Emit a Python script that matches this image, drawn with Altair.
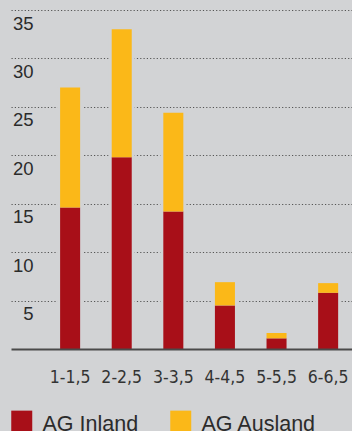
import altair as alt
import pandas as pd

# Stacked bar values per bracket
categories = ["1-1,5", "2-2,5", "3-3,5", "4-4,5", "5-5,5", "6-6,5"]
inland = [14.6, 19.8, 14.2, 4.5, 1.1, 5.8]
ausland = [12.4, 13.2, 10.2, 2.4, 0.55, 1.0]
series_names = ["AG Inland", "AG Ausland"]
series_colors = ["#a80f18", "#fbb818"]
y_ticks = [5, 10, 15, 20, 25, 30, 35]

BG = "#d2d3d5"

rows = []
for cat, a, b in zip(categories, inland, ausland):
    rows.append({"cat": cat, "series": series_names[0], "order": 0, "value": a})
    rows.append({"cat": cat, "series": series_names[1], "order": 1, "value": b})
df = pd.DataFrame(rows)
totals = pd.DataFrame({"cat": categories, "total": [a + b for a, b in zip(inland, ausland)]})

x_scale = alt.Scale(domain=categories, paddingInner=0.612, paddingOuter=0.61, align=0.78, round=False)
y_scale = alt.Scale(domain=[0, 35], nice=False)

x_enc = alt.X(
    "cat:N",
    scale=x_scale,
    sort=categories,
    axis=alt.Axis(
        title=None,
        ticks=False,
        grid=False,
        domain=True,
        domainColor="#4a4a4a",
        domainWidth=2,
        labelFont="DejaVu Sans Condensed, sans-serif",
        labelFontSize=17.5,
        labelColor="#333333",
        labelPadding=19,
        labelAngle=0,
        labelOverlap=False,
        zindex=1,
    ),
)

# Halo behind each bar so the dotted grid stops just short of it
halo = alt.Chart(totals).mark_bar(size=26, color=BG).encode(
    x=x_enc,
    y=alt.Y(
        "total:Q",
        scale=y_scale,
        axis=alt.Axis(
            title=None,
            values=y_ticks,
            ticks=False,
            domain=False,
            grid=True,
            gridColor="#555555",
            gridDash=[1.2, 2.1],
            gridWidth=1.2,
            labelFont="Liberation Sans, Arial, sans-serif",
            labelFontSize=18.5,
            labelColor="#2b2b2b",
            labelAlign="right",
            labelBaseline="middle",
            labelPadding=-22,
            labelOffset=13,
        ),
    ),
)

bars = alt.Chart(df).mark_bar().encode(
    x=x_enc,
    y=alt.Y("value:Q", stack="zero", scale=y_scale),
    color=alt.Color(
        "series:N",
        scale=alt.Scale(domain=series_names, range=series_colors),
        legend=alt.Legend(
            title=None,
            orient="none",
            direction="horizontal",
            legendX=0,
            legendY=404,
            # square raised slightly above the label's centre line
            symbolType="M-1,-1.38H1V0.62H-1Z",
            symbolSize=441,
            symbolStrokeWidth=0,
            symbolOpacity=1,
            labelFont="Liberation Sans, Arial, sans-serif",
            labelFontSize=21.5,
            labelColor="#2b2b2b",
            labelOffset=10,
            columnPadding=31,
            padding=0,
        ),
    ),
    order=alt.Order("order:Q"),
)

chart = (
    alt.layer(halo, bars)
    .properties(
        width=341,
        height=339,
        padding={"left": 11, "top": 10, "right": 0, "bottom": 82},
        autosize=alt.AutoSizeParams(type="none"),
        background=BG,
    )
    .configure_view(strokeWidth=0)
)

chart.save("out.html", embed_options={"renderer": "svg", "actions": False})
